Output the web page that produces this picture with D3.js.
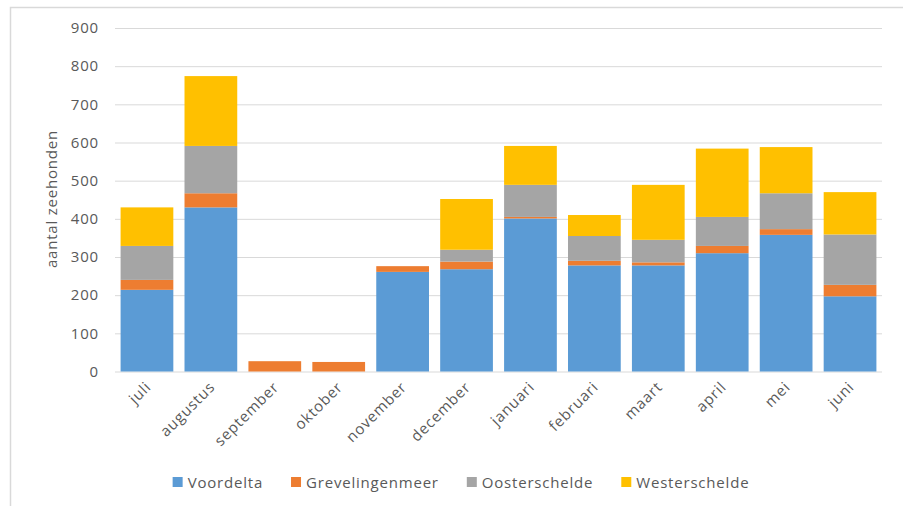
<!DOCTYPE html>
<html>
<head>
  <meta charset="utf-8">
  <title>zeehonden per maand</title>
  <script src="https://cdn.jsdelivr.net/npm/d3@7"></script>
  <style>
    body { margin: 0; background: #fff; }
    svg text { font-family: "Open Sans", sans-serif; fill: #595959; letter-spacing: 0.8px; }
  </style>
</head>
<body>
<svg id="chart" width="903" height="506"></svg>
<script>
// maanden en tellingen per gebied
var months = ["juli", "augustus", "september", "oktober", "november", "december",
              "januari", "februari", "maart", "april", "mei", "juni"];
var voordelta       = [214, 430, 0, 0, 261, 268, 401, 278, 278, 310, 358, 197];
var grevelingenmeer = [26, 37, 27, 25, 15, 20, 4, 12, 8, 19, 15, 30];
var oosterschelde   = [89, 124, 0, 0, 0, 31, 84, 65, 59, 76, 94, 132];
var westerschelde   = [101, 183, 0, 0, 0, 133, 102, 55, 144, 179, 121, 111];
var seriesNames = ["Voordelta", "Grevelingenmeer", "Oosterschelde", "Westerschelde"];
var colors = ["#5B9BD5", "#ED7D31", "#A5A5A5", "#FFC000"];
var yTicks = [0, 100, 200, 300, 400, 500, 600, 700, 800, 900];

var rows = months.map(function(m, i) {
  return { month: m, Voordelta: voordelta[i], Grevelingenmeer: grevelingenmeer[i],
           Oosterschelde: oosterschelde[i], Westerschelde: westerschelde[i] };
});

var svg = d3.select('#chart');
var plotLeft = 115, plotRight = 882, plotTop = 28, plotBottom = 371.5;

// buitenrand van de grafiek
svg.append('rect').attr('x', 10.5).attr('y', 7.5).attr('width', 1000).attr('height', 1000)
  .attr('fill', 'none').attr('stroke', '#d9d9d9').attr('stroke-width', 1.5);

var x = d3.scaleBand().domain(months).range([plotLeft, plotRight])
  .paddingInner(0.175).paddingOuter(0.0875);
var y = d3.scaleLinear().domain([0, 900]).range([plotBottom, plotTop]);

var yAxis = svg.append('g').attr('transform', 'translate(' + plotLeft + ',0)')
  .call(d3.axisLeft(y).tickValues(yTicks).tickSize(-(plotRight - plotLeft)).tickPadding(16));
yAxis.select('.domain').remove();
yAxis.selectAll('line').attr('stroke', '#d9d9d9');
yAxis.selectAll('text').style('font-size', '15px').style('fill', '#595959')
  .style('font-family', '"Open Sans", sans-serif');

var stacked = d3.stack().keys(seriesNames)(rows);

svg.append('g').selectAll('g').data(stacked).enter().append('g')
  .attr('fill', function(d, i) { return colors[i]; })
  .selectAll('rect').data(function(d) { return d; }).enter().append('rect')
  .attr('x', function(d) { return x(d.data.month); })
  .attr('y', function(d) { return y(d[1]); })
  .attr('width', x.bandwidth())
  .attr('height', function(d) { return y(d[0]) - y(d[1]); });

// maandlabels schuin
svg.append('g').selectAll('text').data(months).enter().append('text')
  .attr('transform', function(d) {
    return 'translate(' + (x(d) + x.bandwidth() / 2 + 5) + ',388) rotate(-45)';
  })
  .attr('text-anchor', 'end')
  .style('font-size', '15px')
  .text(function(d) { return d; });

svg.append('text')
  .attr('transform', 'translate(57,199) rotate(-90)')
  .attr('text-anchor', 'middle')
  .style('font-size', '15px')
  .text('aantal zeehonden');

// legenda, gecentreerd
var legend = svg.append('g');
var lx = 0;
seriesNames.forEach(function(name, i) {
  var item = legend.append('g').attr('transform', 'translate(' + lx + ',0)');
  item.append('rect').attr('x', 0).attr('y', 477).attr('width', 10).attr('height', 10)
    .attr('fill', colors[i]);
  var t = item.append('text').attr('x', 15).attr('y', 488).style('font-size', '15px').text(name);
  lx += 15 + t.node().getComputedTextLength() + 28;
});
var legendWidth = lx - 28;
legend.attr('transform', 'translate(' + (461 - legendWidth / 2) + ',0)');
</script>
</body>
</html>
